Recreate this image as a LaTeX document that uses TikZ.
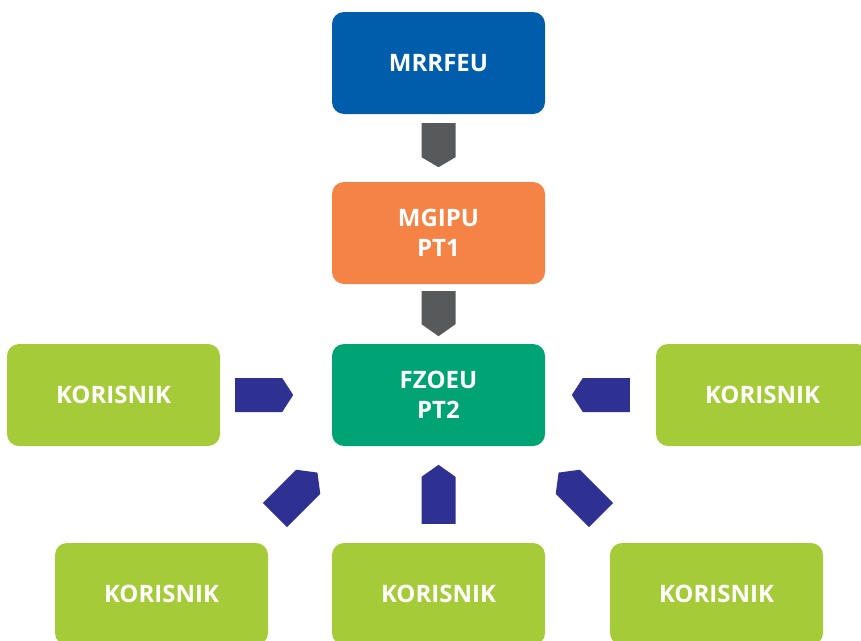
\documentclass[tikz,border=0pt]{standalone}
\usepackage{fontspec}
\setmainfont{Open Sans}
\usetikzlibrary{calc}
\definecolor{cblue}{HTML}{005DAC}
\definecolor{corange}{HTML}{F58345}
\definecolor{cgreen}{HTML}{00A374}
\definecolor{clime}{HTML}{A6CB38}
\definecolor{cgray}{HTML}{58595B}
\definecolor{cnavy}{HTML}{2E3192}
\tikzset{
  box/.style={rounded corners=12pt, minimum width=213pt, minimum height=102pt,
    inner sep=0pt, align=center, text=white,
    font=\fontsize{24}{30}\selectfont\bfseries},
  barrow/.pic={
    \fill (0,-17) -- (\pgfkeysvalueof{/tikz/arrlen},-17) -- (\pgfkeysvalueof{/tikz/arrlen}+\pgfkeysvalueof{/tikz/arrtip},0)
      -- (\pgfkeysvalueof{/tikz/arrlen},17) -- (0,17) -- cycle;
  },
  arrlen/.initial=47, arrtip/.initial=11,
}
\begin{document}
\begin{tikzpicture}[x=1pt,y=-1pt]
\useasboundingbox (0,0) rectangle (861,640);
\node[box, fill=cblue] (mrrfeu) at (438.5,63) {MRRFEU};
\node[box, fill=corange] (mgipu) at (438.5,233) {MGIPU\\PT1};
\node[box, fill=cgreen] (fzoeu) at (438.5,395) {FZOEU\\PT2};
\node[box, fill=clime] (kl) at (113.5,395) {KORISNIK};
\node[box, fill=clime] (kr) at (762.5,395) {KORISNIK};
\node[box, fill=clime] (kbl) at (161.5,594) {KORISNIK};
\node[box, fill=clime] (kbm) at (438.5,594) {KORISNIK};
\node[box, fill=clime] (kbr) at (716.5,594) {KORISNIK};
% gray arrows
\pic[cgray, rotate=-90, arrlen=34, arrtip=10] at ($(mrrfeu.south)+(0,9)$) {barrow};
\pic[cgray, rotate=-90, arrlen=33, arrtip=12] at ($(mgipu.south)+(0,7)$) {barrow};
% navy arrows
\pic[cnavy, rotate=0] at ($(kl.east)+(15,0)$) {barrow};
\pic[cnavy, rotate=180] at ($(kr.west)+(-26,0)$) {barrow};
\pic[cnavy, rotate=90, arrtip=12] at ($(kbm.north)+(0,-19)$) {barrow};
\pic[cnavy, rotate=45, arrtip=13] at (275,515) {barrow};
\pic[cnavy, rotate=135, arrtip=13] at (601,515) {barrow};
\end{tikzpicture}
\end{document}
